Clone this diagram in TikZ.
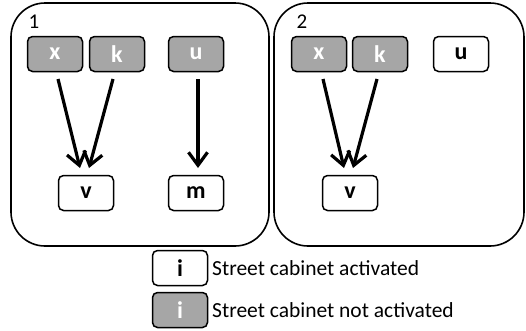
\documentclass[tikz,border=0pt]{standalone}
\usepackage{fontspec}
\setmainfont{Carlito}
\usetikzlibrary{arrows.meta}
\definecolor{cabgray}{HTML}{A6A6A6}
\tikzset{
  panel/.style={draw=black, line width=1.6pt, rounded corners=34pt},
  cab/.style={draw=black, line width=1.5pt, rounded corners=5pt, minimum width=55pt, minimum height=35pt, inner sep=0pt, font=\fontsize{24}{28}\selectfont\bfseries},
  on/.style={cab, fill=white, text=black},
  off/.style={cab, fill=cabgray, text=white},
  flowarrow/.style={draw=black, line width=3.2pt, -{Straight Barb[length=13pt,width=19pt]}},
  lbl/.style={inner sep=0pt, font=\fontsize{21}{25}\selectfont},
  legtxt/.style={inner sep=0pt, anchor=west, font=\fontsize{21.5}{25}\selectfont}
}
\begin{document}
\begin{tikzpicture}[x=1pt,y=-1pt]
\useasboundingbox (0,0) rectangle (526,330);
% panels
\draw[panel] (11,3) rectangle (269,246);
\draw[panel] (274,3) rectangle (524,246);
\node[lbl] (n1) at (34,22) {1};
\node[lbl] (n2) at (302,22) {2};
% panel 1
\node[off] (x1) at (55,54) {x};
\node[off] (k1) at (117,54) {k};
\node[off] (u1) at (196,54) {u};
\node[on] (v1) at (86,193) {v};
\node[on] (m1) at (196,193) {m};
\coordinate (x1s) at (58,79);
\coordinate (x1e) at (80,168);
\coordinate (k1s) at (113,79);
\coordinate (k1e) at (89,168);
\coordinate (u1s) at (198,79);
\coordinate (u1e) at (198,168);
\path[flowarrow] (x1s) -- (x1e);
\path[flowarrow] (k1s) -- (k1e);
\path[flowarrow] (u1s) -- (u1e);
% panel 2
\node[off] (x2) at (319,54) {x};
\node[off] (k2) at (380,54) {k};
\node[on] (u2) at (461,54) {u};
\node[on] (v2) at (350,193) {v};
\coordinate (x2s) at (323,79);
\coordinate (x2e) at (344,168);
\coordinate (k2s) at (377,79);
\coordinate (k2e) at (353,168);
\path[flowarrow] (x2s) -- (x2e);
\path[flowarrow] (k2s) -- (k2e);
% legend
\node[on] (l1) at (180,268) {i};
\node[off] (l2) at (180,310) {i};
\node[legtxt] (t1) at (212,268) {Street cabinet activated};
\node[legtxt] (t2) at (212,310) {Street cabinet not activated};
\end{tikzpicture}
\end{document}
